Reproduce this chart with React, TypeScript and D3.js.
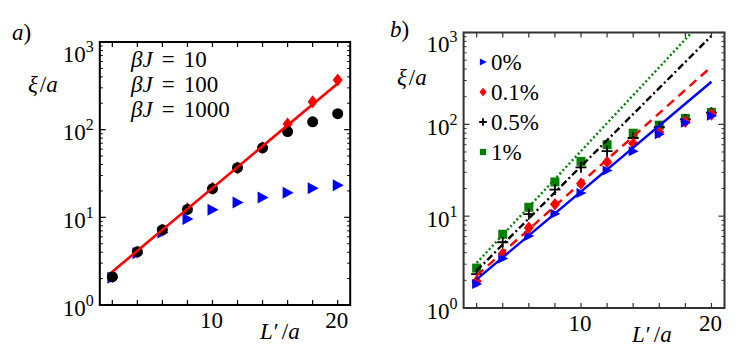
import React from 'react';
import * as d3 from 'd3';

// ---- data ----
const Lvals = [2, 4, 6, 8, 10, 12, 14, 16, 18, 20];
// panel a
const aBJ10 = [2.05, 3.9, 6.7, 9.6, 12.2, 14.8, 16.8, 19.1, 21.4, 23.3];
const aBJ100 = [2.1, 4.05, 7.2, 12.3, 21.2, 36.8, 62, 95, 123, 152];
const aBJ1000 = [2.1, 4.0, 7.1, 12.5, 21.5, 36.5, 62, 116, 208, 368];
const aFitL = [2, 20];
const aFitXi = [2.4, 337];
const aLegend = ['10', '100', '1000'];
// panel b
const b0 = [1.82, 3.45, 6.1, 10.6, 17.9, 31.5, 51, 78, 104, 124];
const b01 = [1.95, 3.9, 7.5, 13.5, 22.7, 39, 62, 82, 107, 128];
const b05 = [2.34, 5.2, 10.5, 19.5, 34, 51, 71, 93, 113, 134];
const b1 = [2.72, 6.35, 12.5, 23.6, 39.5, 60, 80, 98, 116, 135];
const bFitL = [2, 20];
const bFit0 = [2.05, 291];
const bFit01 = [2.25, 424];
const bFit05 = [2.55, 920];
const bFit1 = [3.1, 1700];
const bLegend = ['0%', '0.1%', '0.5%', '1%'];
const xTickLabels = [10, 20];
const yDecades = [1, 10, 100, 1000];

const FS = 23;
const FAM = 'Liberation Serif';

// marker paths
const triRight = (w: number, h: number) => `M${-w * 0.45},${-h / 2}L${w * 0.55},0L${-w * 0.45},${h / 2}Z`;
const diamond = (w: number, h: number) => `M0,${-h / 2}L${w / 2},0L0,${h / 2}L${-w / 2},0Z`;
const square = (s: number) => `M${-s / 2},${-s / 2}h${s}v${s}h${-s}Z`;
const plus = (s: number) => `M${-s / 2},0H${s / 2}M0,${-s / 2}V${s / 2}`;

type Box = { left: number; right: number; top: number; bottom: number };

function T(props: any) {
  const { children, style, ...rest } = props;
  return (
    <text fontSize={FS} fontFamily={FAM} style={{ fontFamily: `'${FAM}'`, ...(style || {}) }} {...rest}>
      {children}
    </text>
  );
}

function Frame({ box, x, y, stroke }: { box: Box; x: any; y: any; stroke: string }) {
  const minors: number[] = [];
  for (let d = 1; d < 1000; d *= 10) for (let k = 2; k <= 9; k++) minors.push(d * k);
  return (
    <g>
      {Lvals.map((v) => (
        <g key={'xt' + v}>
          <line x1={x(v)} x2={x(v)} y1={box.bottom} y2={box.bottom - 5} stroke={stroke} strokeWidth={1.2} />
          <line x1={x(v)} x2={x(v)} y1={box.top} y2={box.top + 5} stroke={stroke} strokeWidth={1.2} />
        </g>
      ))}
      {yDecades.map((v) => (
        <g key={'yt' + v}>
          <line x1={box.left} x2={box.left + 6} y1={y(v)} y2={y(v)} stroke={stroke} strokeWidth={1.2} />
          <line x1={box.right} x2={box.right - 6} y1={y(v)} y2={y(v)} stroke={stroke} strokeWidth={1.2} />
        </g>
      ))}
      {minors.map((v) => (
        <g key={'ym' + v}>
          <line x1={box.left} x2={box.left + 3} y1={y(v)} y2={y(v)} stroke={stroke} strokeWidth={1} />
          <line x1={box.right} x2={box.right - 3} y1={y(v)} y2={y(v)} stroke={stroke} strokeWidth={1} />
        </g>
      ))}
      <rect x={box.left} y={box.top} width={box.right - box.left} height={box.bottom - box.top}
        fill="none" stroke={stroke} strokeWidth={2} />
      {yDecades.map((v, i) => {
        let cy = y(v) + 3;
        cy = Math.max(cy, box.top + 12);
        return (
          <T key={'yl' + v} x={box.left - 6} y={cy + 7.5} textAnchor="end">
            10<tspan fontSize={16} dy={-10}>{i}</tspan>
          </T>
        );
      })}
      {xTickLabels.map((v) => (
        <T key={'xl' + v} x={x(v) - 1} y={box.bottom + 23} textAnchor="middle">{v}</T>
      ))}
    </g>
  );
}

function XLabel({ x, y }: { x: number; y: number }) {
  return (
    <T x={x} y={y}>
      <tspan fontStyle="italic">L</tspan><tspan dx={1}>′</tspan><tspan dx={3}>/</tspan><tspan fontStyle="italic">a</tspan>
    </T>
  );
}
function YLabel({ x, y }: { x: number; y: number }) {
  return (
    <T x={x} y={y}>
      <tspan fontStyle="italic">ξ</tspan><tspan dx={2}>/</tspan><tspan fontStyle="italic">a</tspan>
    </T>
  );
}

export default function App() {
  // panel a
  const boxA: Box = { left: 99.8, right: 350.2, top: 42, bottom: 305 };
  const xa = d3.scaleLinear().domain([1, 21]).range([boxA.left, boxA.right]);
  const ya = d3.scaleLog().domain([1, 1000]).range([boxA.bottom, boxA.top]);
  // panel b
  const boxB: Box = { left: 463.6, right: 724.5, top: 32.5, bottom: 308 };
  const xb = d3.scaleLinear().domain([1, 21]).range([boxB.left, boxB.right]);
  const yb = d3.scaleLog().domain([1, 1000]).range([boxB.bottom, boxB.top]);

  const lineA = d3.line<number>().x((_, i) => xa(aFitL[i])).y((d) => ya(d));
  const lineB = d3.line<number>().x((_, i) => xb(bFitL[i])).y((d) => yb(d));

  const seriesB = [
    { data: b1, color: '#008000', kind: 'square' },
    { data: b05, color: '#000000', kind: 'plus' },
    { data: b01, color: '#ff0000', kind: 'diamond' },
    { data: b0, color: '#0000ff', kind: 'tri' },
  ];
  const fitsB = [
    { data: bFit0, color: '#0000ff', dash: undefined },
    { data: bFit01, color: '#ff0000', dash: '9,6' },
    { data: bFit05, color: '#000000', dash: '7,3,2,3' },
    { data: bFit1, color: '#008000', dash: '2,2.5' },
  ];

  const markB = (kind: string, color: string, big: boolean) => {
    const f = big ? 1 : 0.7;
    if (kind === 'square') return <path d={square(9 * f)} fill={color} />;
    if (kind === 'plus') return <path d={plus(11 * f)} stroke={color} strokeWidth={1.8} fill="none" />;
    if (kind === 'diamond') return <path d={diamond(10 * f, 12.5 * f)} fill={color} />;
    return <path d={triRight(10 * f, 10 * f)} fill={color} />;
  };

  return (
    <svg width={747} height={355} fontFamily={FAM} style={{ position: 'absolute', left: 0, top: 0, background: '#fff', fontFamily: `'${FAM}'` }}>
      <defs>
        <clipPath id="clipB"><rect x={boxB.left} y={boxB.top} width={boxB.right - boxB.left} height={boxB.bottom - boxB.top} /></clipPath>
      </defs>
      {/* panel a */}
      <T x={12} y={40} fontStyle="italic">a<tspan fontStyle="normal">)</tspan></T>
      <YLabel x={28} y={92} />
      <XLabel x={260} y={339} />
      {Lvals.map((v, i) => (
        <path key={'a10' + i} transform={`translate(${xa(v)},${ya(aBJ10[i])})`} d={triRight(11, 12)} fill="#0000ff" />
      ))}
      {Lvals.map((v, i) => (
        <path key={'a1000' + i} transform={`translate(${xa(v)},${ya(aBJ1000[i])})`} d={diamond(10, 13)} fill="#ff0000" />
      ))}
      {Lvals.map((v, i) => (
        <circle key={'a100' + i} cx={xa(v)} cy={ya(aBJ100[i])} r={5.5} fill="#000" />
      ))}
      <path d={lineA(aFitXi) || ''} stroke="#ff0000" strokeWidth={2.6} fill="none" />
      {aLegend.map((t, i) => (
        <T key={'al' + i} x={131} y={67 + i * 25}>
          <tspan fontStyle="italic">βJ</tspan><tspan dx={9}>=</tspan><tspan dx={9}>{t}</tspan>
        </T>
      ))}
      <Frame box={boxA} x={xa} y={ya} stroke="#000" />

      {/* panel b */}
      <T x={390} y={37} fontStyle="italic">b<tspan fontStyle="normal">)</tspan></T>
      <YLabel x={397} y={85} />
      <XLabel x={632} y={342} />
      {seriesB.map((s, si) => (
        <g key={'bs' + si}>
          {Lvals.map((v, i) => (
            <g key={i} transform={`translate(${xb(v)},${yb(s.data[i])})`}>{markB(s.kind, s.color, true)}</g>
          ))}
        </g>
      ))}
      <g clipPath="url(#clipB)">
        {fitsB.map((f, fi) => (
          <path key={'bf' + fi} d={lineB(f.data) || ''} stroke={f.color} strokeWidth={2.4} fill="none" strokeDasharray={f.dash} />
        ))}
      </g>
      {bLegend.map((t, i) => {
        const s = seriesB[3 - i];
        const cy = 62 + i * 30;
        return (
          <g key={'bl' + i}>
            <g transform={`translate(483,${cy})`}>{markB(s.kind, s.color, false)}</g>
            <T x={491} y={cy + 8}>{t}</T>
          </g>
        );
      })}
      <Frame box={boxB} x={xb} y={yb} stroke="#333" />
    </svg>
  );
}
